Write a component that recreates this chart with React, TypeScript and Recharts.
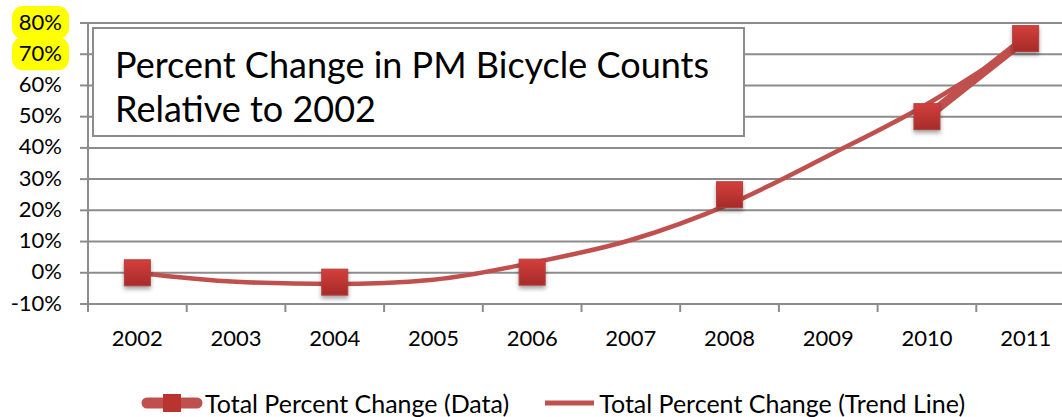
import React from "react";
import { ComposedChart, Line, XAxis, YAxis, CartesianGrid, Legend } from "recharts";

const years = [2002, 2003, 2004, 2005, 2006, 2007, 2008, 2009, 2010, 2011];
// measured points (gaps where no count was taken)
const dataPct = [0, null, -3, null, 0.2, null, 25, null, 50, 75];
// polynomial trend line
const trendPct = [0, -2.9, -3.6, -2.2, 3.2, 10.5, 22, 37.5, 54, 74];
const yTicks = [-10, 0, 10, 20, 30, 40, 50, 60, 70, 80];
const highlighted = [70, 80];
const yearLabels = ["2002", "2003", "2004", "2005", "2006", "2007", "2008", "2009", "2010", "2011"];
const boundaries = [2001.5, 2002.5, 2003.5, 2004.5, 2005.5, 2006.5, 2007.5, 2008.5, 2009.5, 2010.5, 2011.5];

const DATA_NAME = "Total Percent Change (Data)";
const TREND_NAME = "Total Percent Change (Trend Line)";

const rows = years.map((yr, i) => ({ year: yr, data: dataPct[i], trend: trendPct[i] }));
const xTicks = [...boundaries, ...years].sort((a, b) => a - b);

const RED = "#c0504d";
const GRID = "#8c8c8c";
const FONT = "Lato, 'Open Sans', sans-serif";
const TICK_SIZE = 8;
const TICK_MARGIN = 18;

function XTick(props: any) {
  const { x, y, payload } = props;
  const v = payload.value as number;
  if (v % 1 !== 0) {
    return (
      <line x1={x} x2={x} y1={y - TICK_MARGIN - TICK_SIZE} y2={y - TICK_MARGIN} stroke={GRID} strokeWidth={2} />
    );
  }
  const label = yearLabels[years.indexOf(v)];
  return (
    <text x={x} y={y} dy="0.72em" textAnchor="middle" fontSize={22} fontFamily={FONT} fill="#000">
      {label}
    </text>
  );
}

function YTick(props: any) {
  const { x, y, payload } = props;
  const v = payload.value as number;
  return (
    <g>
      {highlighted.includes(v) && (
        <rect x={x - 50} y={y - 17} width={57} height={33} rx={11} fill="#ffff00" />
      )}
      <text x={x} y={y} dy="0.3em" textAnchor="end" fontSize={22} fontFamily={FONT} fill="#000">
        {v}%
      </text>
    </g>
  );
}

function SquareDot(props: any) {
  const { cx, cy, value, index } = props;
  if (value == null || cx == null || cy == null) return null;
  const id = `sq-grad-${index}`;
  return (
    <g key={index} style={{ filter: "drop-shadow(0px 3px 2px rgba(0,0,0,0.35))" }}>
      <defs>
        <linearGradient id={id} x1="0" y1="0" x2="0" y2="1">
          <stop offset="0%" stopColor="#d43f3c" />
          <stop offset="100%" stopColor="#a52b29" />
        </linearGradient>
      </defs>
      <rect x={cx - 13} y={cy - 13} width={26} height={26} fill={`url(#${id})`} stroke="#b5403d" strokeWidth={1} />
    </g>
  );
}

function LegendContent() {
  return (
    <div style={{ display: "flex", alignItems: "center", height: 26, fontFamily: FONT, fontSize: 25, lineHeight: 1, color: "#000" }}>
      <svg width={64} height={26} style={{ marginLeft: 140 }}>
        <line x1={7} x2={57} y1={13} y2={13} stroke={RED} strokeWidth={11} strokeLinecap="round" />
        <rect x={23} y={4} width={18} height={18} fill="#b9332f" />
      </svg>
      <span style={{ marginLeft: 1 }}>{DATA_NAME}</span>
      <svg width={52} height={26} style={{ marginLeft: 35 }}>
        <line x1={1} x2={50} y1={13} y2={13} stroke={RED} strokeWidth={5} />
      </svg>
      <span style={{ marginLeft: 3 }}>{TREND_NAME}</span>
    </div>
  );
}

export default function App() {
  return (
    <div style={{ position: "absolute", left: 0, top: 0, width: 1062, height: 417, overflow: "hidden", background: "#fff" }}>
      <ComposedChart width={1090} height={417} data={rows} margin={{ top: 23, right: 15, left: 0, bottom: 0 }}>
        <CartesianGrid vertical={false} stroke={GRID} strokeWidth={2} />
        <XAxis
          dataKey="year"
          type="number"
          domain={[2001.5, 2011.5]}
          ticks={xTicks}
          interval={0}
          height={87}
          tickLine={false}
          tickSize={TICK_SIZE}
          tickMargin={TICK_MARGIN}
          axisLine={{ stroke: GRID, strokeWidth: 2 }}
          tick={<XTick />}
        />
        <YAxis
          type="number"
          domain={[-10, 80]}
          ticks={yTicks}
          interval={0}
          width={88}
          tickSize={TICK_SIZE}
          tickMargin={TICK_MARGIN}
          axisLine={{ stroke: GRID, strokeWidth: 2 }}
          tickLine={{ stroke: GRID, strokeWidth: 2 }}
          tick={<YTick />}
        />
        <Legend
          verticalAlign="bottom"
          height={26}
          wrapperStyle={{ top: 390, left: 0, width: 1090, height: 26 }}
          content={<LegendContent />}
        />
        <Line
          dataKey="data"
          name={DATA_NAME}
          stroke={RED}
          strokeWidth={9}
          connectNulls={false}
          dot={<SquareDot />}
          activeDot={false}
          isAnimationActive={false}
        />
        <Line
          dataKey="trend"
          name={TREND_NAME}
          type="monotone"
          stroke={RED}
          strokeWidth={4.5}
          dot={false}
          activeDot={false}
          isAnimationActive={false}
        />
      </ComposedChart>
      <div
        style={{
          position: "absolute",
          left: 92,
          top: 27,
          width: 649,
          height: 106,
          border: "2px solid #8c8c8c",
          background: "#fff",
          boxSizing: "content-box",
          fontFamily: FONT,
          fontSize: 36,
          lineHeight: "44px",
        }}
      >
        <div style={{ position: "absolute", left: 21, top: 13, whiteSpace: "nowrap" }}>
          Percent Change in PM Bicycle Counts
          <br />
          Relative to 2002
        </div>
      </div>
    </div>
  );
}
